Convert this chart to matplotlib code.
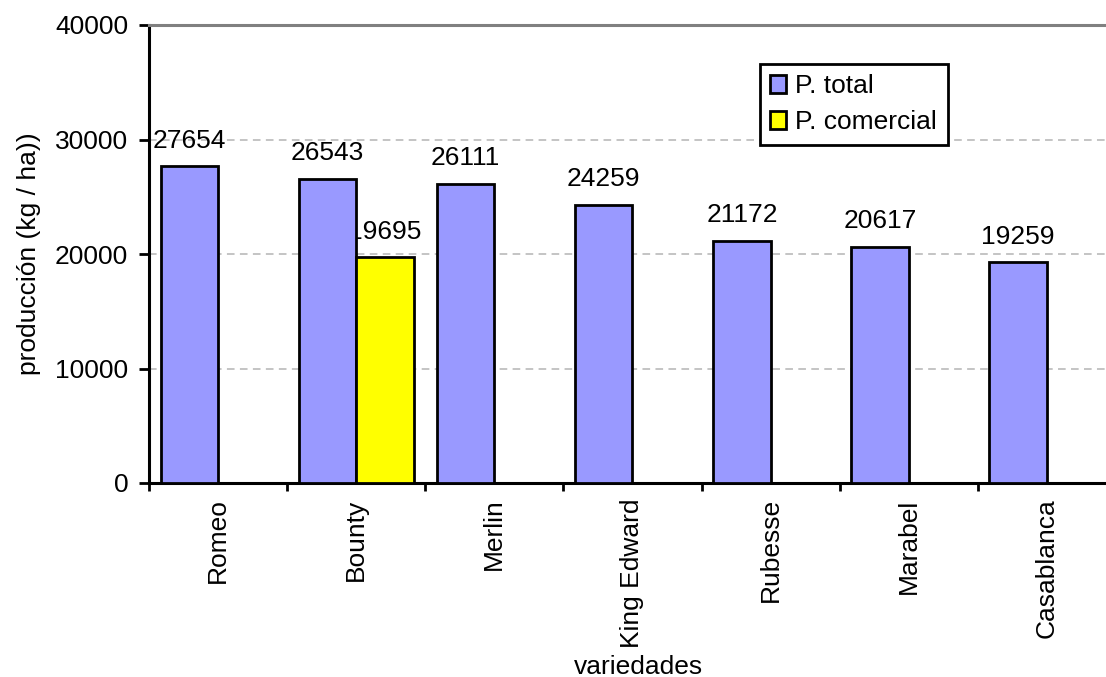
import numpy as np
import matplotlib
matplotlib.use("Agg")
from matplotlib import pyplot as plt

# variedades y producción (kg/ha)
variedades = ["Romeo", "Bounty", "Merlin", "King Edward", "Rubesse", "Marabel", "Casablanca"]
p_total = [27654, 26543, 26111, 24259, 21172, 20617, 19259]
p_comercial = [np.nan, 19695, np.nan, np.nan, np.nan, np.nan, np.nan]
y_ticks = [0, 10000, 20000, 30000, 40000]

plt.rcParams['font.family'] = ['Liberation Sans', 'DejaVu Sans']
fs = 19

fig = plt.figure(figsize=(11.06, 6.77), dpi=100)
ax = fig.add_axes([149/1106, 1 - 483/677, 967/1106, 458/677])

x = np.arange(len(variedades))
w = 0.416
b1 = ax.bar(x - w/2, p_total, w, color='#9999FF', edgecolor='black', linewidth=2.0, zorder=3, label='P. total')
b2 = ax.bar(x + w/2, p_comercial, w, color='#FFFF00', edgecolor='black', linewidth=2.0, zorder=3, label='P. comercial')

# etiquetas de valores (debajo de las barras)
for xs, vals in ((x - w/2, p_total), (x + w/2, p_comercial)):
    for xi, v in zip(xs, vals):
        if np.isnan(v):
            continue
        ax.annotate(f"{v:.0f}", (xi, v), xytext=(0, 13.5), textcoords='offset points',
                    ha='center', va='baseline', fontsize=fs, zorder=2)

ax.set_xlim(-0.5, len(variedades) - 0.5)
ax.set_ylim(0, 40000)
ax.set_yticks(y_ticks)
ax.set_yticklabels([str(t) for t in y_ticks], fontsize=fs)
ax.yaxis.grid(True, color='#b4b4b4', linestyle=(0, (5, 3.5)), linewidth=1.1, zorder=0)
ax.set_axisbelow(True)

ax.set_xticks(x)
ax.set_xticklabels(variedades, rotation=90, fontsize=fs, va='top')
ax.set_xticks(np.arange(-0.5, len(variedades)), minor=True)
ax.tick_params(axis='x', which='major', length=0, pad=11)
ax.tick_params(axis='x', which='minor', length=6, width=2, direction='out')
ax.tick_params(axis='y', length=7, width=2, direction='out', pad=8)

for s in ('left', 'bottom'):
    ax.spines[s].set_linewidth(2.2)
    ax.spines[s].set_color('black')
ax.spines['top'].set_color('#808080')
ax.spines['top'].set_linewidth(2.2)
ax.spines['right'].set_visible(False)

ax.set_ylabel("producción (kg / ha))", fontsize=fs)
ax.yaxis.set_label_coords(-0.112, 0.5)
ax.set_xlabel("variedades", fontsize=fs)
ax.xaxis.set_label_coords((638 - 149) / 967, (483 - 655) / 458)

leg = ax.legend(loc='upper right', bbox_to_anchor=(0.826, 0.915), fontsize=fs,
                handlelength=0.6, handleheight=0.65, handletextpad=0.35,
                borderpad=0.4, labelspacing=0.45, borderaxespad=0,
                fancybox=False, framealpha=1)
leg.get_frame().set_edgecolor('black')
leg.get_frame().set_linewidth(2.0)
for h in leg.legend_handles:
    h.set_linewidth(2.0)

fig.savefig("out.png", dpi=100)
